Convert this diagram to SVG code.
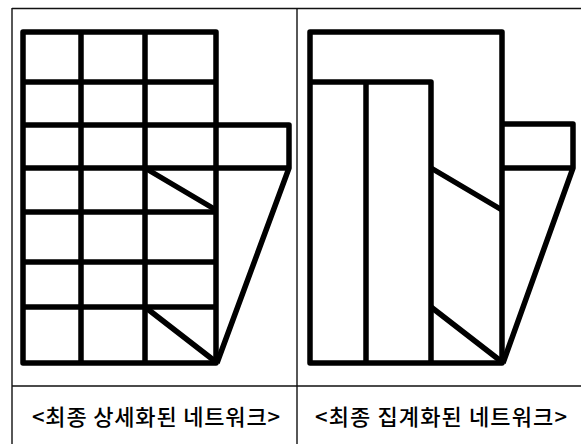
<svg xmlns="http://www.w3.org/2000/svg" width="581" height="444" viewBox="0 0 581 444">
<style>
.frame{fill:none;stroke:#111;stroke-width:1.4}
.net{fill:none;stroke:#000;stroke-width:5.5;stroke-linejoin:round;stroke-linecap:butt}
.lbl{font-family:"Noto Sans CJK KR","Noto Sans",sans-serif;font-size:22px;font-weight:500;fill:#000;text-anchor:middle;dominant-baseline:central}
</style>
<rect width="581" height="444" fill="#fff"/>
<g id="frame">
<path class="frame" d="M12 8.5H581M12 8V444M297 8V444M12 386H581"/>
</g>
<g id="detailed-network">
<path class="net" d="M23 32H216V363H23Z"/>
<path class="net" d="M81 32V363M145 32V363"/>
<path class="net" d="M23 82H216M23 125H216M23 168H216M23 212H216M23 262H216M23 307H216"/>
<path class="net" d="M216 125H289V168L217 363"/>
<path class="net" d="M216 168H289"/>
<path class="net" d="M145 168L216 210M145 307L216 362"/>
</g>
<g id="aggregated-network">
<path class="net" d="M310 32H502V363H310Z"/>
<path class="net" d="M310 82H431V363M366 82V363"/>
<path class="net" d="M502 124H573V168L503 363M502 168H573"/>
<path class="net" d="M431 168L502 210M431 307L502 362"/>
</g>
<g id="labels">
<text class="lbl" x="156" y="415" textLength="248" lengthAdjust="spacing">&lt;최종 상세화된 네트워크&gt;</text>
<text class="lbl" x="441" y="415" textLength="252" lengthAdjust="spacing">&lt;최종 집계화된 네트워크&gt;</text>
</g>
</svg>
